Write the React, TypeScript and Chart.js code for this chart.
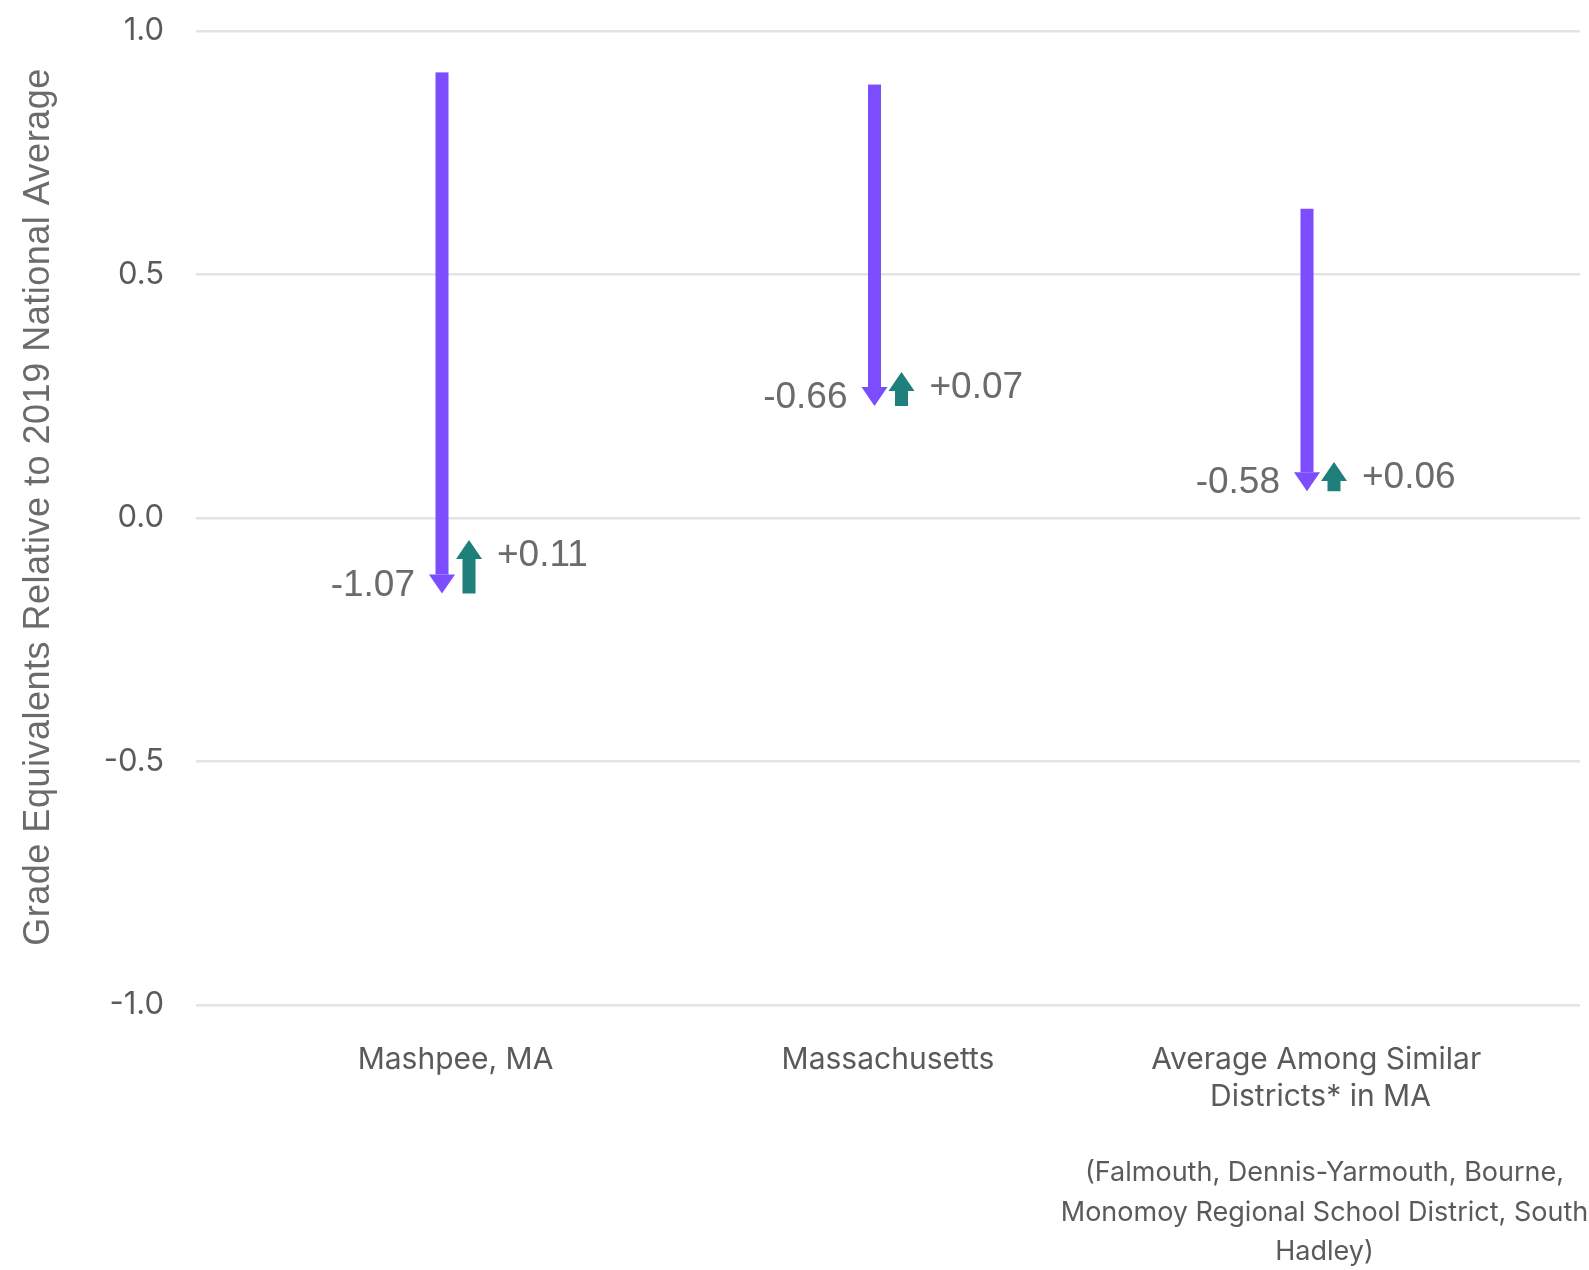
import React, { useEffect, useRef } from "react";
import { Chart, registerables } from "chart.js";

Chart.register(...registerables);

// ---- data ----
const CATEGORIES: (string | string[])[] = [
  "Mashpee, MA",
  "Massachusetts",
  ["Average Among Similar ", "Districts* in MA"],
];
const START_VALUES = [0.915, 0.89, 0.635];
const DECLINES = [-1.07, -0.66, -0.58];
const RECOVERIES = [0.11, 0.07, 0.06];
const DECLINE_LABELS = ["-1.07", "-0.66", "-0.58"];
const RECOVERY_LABELS = ["+0.11", "+0.07", "+0.06"];
const FOOTNOTE_LINES = [
  "(Falmouth, Dennis-Yarmouth, Bourne,",
  "Monomoy Regional School District, South",
  "Hadley)",
];
const Y_TITLE = "Grade Equivalents Relative to 2019 National Average";

const PURPLE = "#7c4dff";
const TEAL = "#1f7f7b";
const TEXT_GRAY = "#5a5a5a";
const LABEL_GRAY = "#6b6b6b";

const arrowPlugin = {
  id: "arrows",
  afterDatasetsDraw(chart: any) {
    const { ctx, scales } = chart;
    const xs = scales.x;
    const ys = scales.y;
    const shaftW = 13;
    const headW = 26;
    const headH = 19;
    const sep = 13.5;
    ctx.save();
    for (let i = 0; i < START_VALUES.length; i++) {
      const cx = xs.getPixelForValue(i);
      const start = START_VALUES[i];
      const end = start + DECLINES[i];
      const rec = end + RECOVERIES[i];
      const yStart = ys.getPixelForValue(start);
      const yEnd = ys.getPixelForValue(end);
      const yRec = ys.getPixelForValue(rec);

      // decline arrow (down)
      const px = cx - sep;
      ctx.fillStyle = PURPLE;
      ctx.fillRect(px - shaftW / 2, yStart, shaftW, yEnd - headH - yStart);
      ctx.beginPath();
      ctx.moveTo(px - headW / 2, yEnd - headH);
      ctx.lineTo(px + headW / 2, yEnd - headH);
      ctx.lineTo(px, yEnd);
      ctx.closePath();
      ctx.fill();

      // recovery arrow (up)
      const tx = cx + sep;
      ctx.fillStyle = TEAL;
      ctx.fillRect(tx - shaftW / 2, yRec + headH, shaftW, yEnd - (yRec + headH));
      ctx.beginPath();
      ctx.moveTo(tx - headW / 2, yRec + headH);
      ctx.lineTo(tx + headW / 2, yRec + headH);
      ctx.lineTo(tx, yRec);
      ctx.closePath();
      ctx.fill();

      // labels
      ctx.font = "37px 'Liberation Sans', Arial, sans-serif";
      ctx.fillStyle = LABEL_GRAY;
      ctx.textBaseline = "middle";
      ctx.textAlign = "right";
      ctx.fillText(DECLINE_LABELS[i], px - 27, yEnd - 8);
      ctx.textAlign = "left";
      ctx.fillText(RECOVERY_LABELS[i], tx + 28, yRec + 16);
    }
    ctx.restore();
  },
  afterDraw(chart: any) {
    const { ctx, scales, chartArea } = chart;
    ctx.save();
    // footnote under the third category
    const cx = scales.x.getPixelForValue(2) + 4;
    ctx.font = "27px Inter, sans-serif";
    ctx.fillStyle = TEXT_GRAY;
    ctx.textAlign = "center";
    ctx.textBaseline = "middle";
    FOOTNOTE_LINES.forEach((line, k) => {
      ctx.fillText(line, cx, chartArea.bottom + 168 + k * 39.5);
    });
    // y-axis title
    ctx.translate(39, (chartArea.top + chartArea.bottom) / 2 - 11);
    ctx.rotate(-Math.PI / 2);
    ctx.font = "36px 'Liberation Sans', Arial, sans-serif";
    try {
      (ctx as any).letterSpacing = "0.5px";
    } catch (e) {}
    ctx.fillStyle = LABEL_GRAY;
    ctx.textAlign = "center";
    ctx.textBaseline = "middle";
    ctx.fillText(Y_TITLE, 0, 0);
    ctx.restore();
  },
};

export default function App() {
  const ref = useRef<HTMLCanvasElement | null>(null);

  useEffect(() => {
    document.body.style.margin = "0";
    document.body.style.overflow = "hidden";
    const canvas = ref.current;
    if (!canvas) return;
    const chart = new Chart(canvas, {
      type: "scatter",
      data: {
        datasets: [
          {
            label: "Start",
            data: START_VALUES.map((v, i) => ({ x: i, y: v })),
            pointRadius: 0,
            showLine: false,
          },
          {
            label: "After decline",
            data: START_VALUES.map((v, i) => ({ x: i, y: v + DECLINES[i] })),
            pointRadius: 0,
            showLine: false,
          },
          {
            label: "After recovery",
            data: START_VALUES.map((v, i) => ({ x: i, y: v + DECLINES[i] + RECOVERIES[i] })),
            pointRadius: 0,
            showLine: false,
          },
        ],
      },
      options: {
        responsive: false,
        animation: false,
        events: [],
        layout: { padding: { top: 31, right: 9, left: 0, bottom: 0 } },
        plugins: {
          legend: { display: false },
          tooltip: { enabled: false },
        },
        scales: {
          x: {
            type: "linear",
            min: -0.6,
            max: 2.6,
            grid: { display: false, drawTicks: false },
            border: { display: false },
            afterBuildTicks: (axis: any) => {
              axis.ticks = CATEGORIES.map((_, i) => ({ value: i }));
            },
            afterFit: (axis: any) => {
              axis.height = 265;
              axis.paddingLeft = 0;
              axis.paddingRight = 0;
            },
            ticks: {
              autoSkip: false,
              maxRotation: 0,
              padding: 37,
              color: TEXT_GRAY,
              font: { family: "Inter, sans-serif", size: 30, lineHeight: 1.213 },
              callback: (v: any) => CATEGORIES[Number(v)] as any,
            },
          },
          y: {
            min: -1,
            max: 1,
            grid: { color: "#e3e3e3", lineWidth: 2.5, drawTicks: false },
            border: { display: false },
            afterFit: (axis: any) => {
              axis.width = 196;
              axis.paddingTop = 0;
              axis.paddingBottom = 0;
            },
            ticks: {
              stepSize: 0.5,
              padding: 32,
              color: TEXT_GRAY,
              font: { family: "Inter, sans-serif", size: 31 },
              callback: (v: any) => Number(v).toFixed(1),
            },
          },
        },
      },
      plugins: [arrowPlugin],
    });
    return () => chart.destroy();
  }, []);

  return (
    <div style={{ width: 1589, height: 1270, background: "#fff" }}>
      <canvas ref={ref} width={1589} height={1270} style={{ display: "block" }} />
    </div>
  );
}
